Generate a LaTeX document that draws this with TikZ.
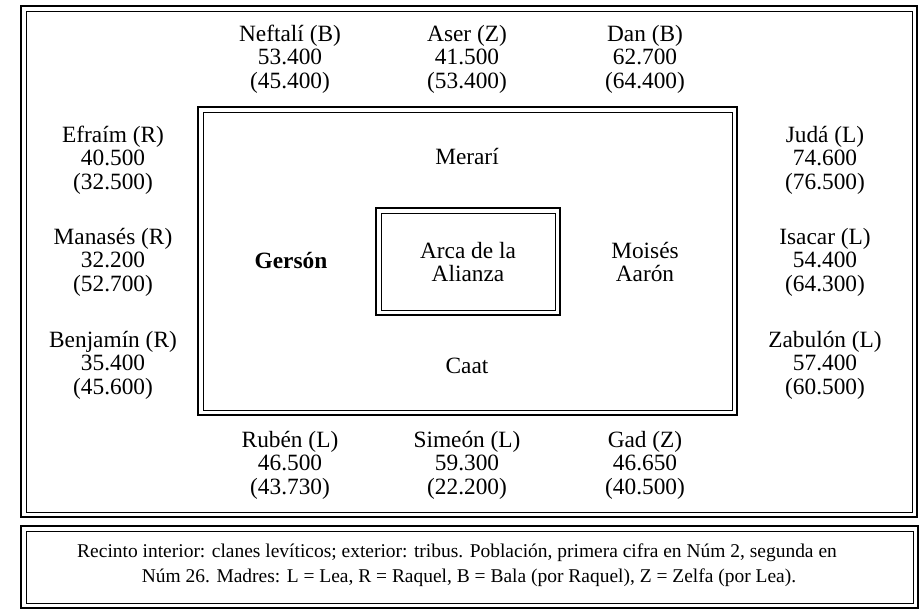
\documentclass[tikz,border=0pt]{standalone}
\usepackage{fontspec}
\setmainfont{Liberation Serif}
\usetikzlibrary{calc}
\definecolor{FrameClr}{rgb}{0,0,0}

% marco doble: trazo grueso fuera, fino dentro
\newcommand{\DobleMarco}[4]{%
  \draw[line width=1.7pt,color=FrameClr] (#1,#2) rectangle (#3,#4);
  \draw[line width=0.7pt,color=FrameClr] ($(#1,#2)+(5,5)$) rectangle ($(#3,#4)+(-5,-5)$);
}

\begin{document}
\begin{tikzpicture}[x=0.75pt,y=-0.75pt,
  tribu/.style={align=center,inner sep=0pt,font=\fontsize{17.5}{17.6}\selectfont},
  clan/.style={align=center,inner sep=0pt,font=\fontsize{17.5}{17.6}\selectfont},
  nota/.style={inner sep=0pt,font=\fontsize{14.6}{16}\selectfont}]
\useasboundingbox (0,0) rectangle (920,613);

\DobleMarco{21}{6}{917}{517}
\DobleMarco{198}{107}{737}{415}
\DobleMarco{376}{208}{560}{315}
\DobleMarco{21}{526}{918}{608}

% tribus, arriba
\node[tribu] (neftali) at (290,59) {Neftalí (B)\\53.400\\(45.400)};
\node[tribu] (aser) at (467,59) {Aser (Z)\\41.500\\(53.400)};
\node[tribu] (dan) at (645,59) {Dan (B)\\62.700\\(64.400)};

% izquierda
\node[tribu] (efraim) at (113,160) {Efraím (R)\\40.500\\(32.500)};
\node[tribu] (manases) at (113,262) {Manasés (R)\\32.200\\(52.700)};
\node[tribu] (benjamin) at (113,365) {Benjamín (R)\\35.400\\(45.600)};

% derecha
\node[tribu] (juda) at (825,160) {Judá (L)\\74.600\\(76.500)};
\node[tribu] (isacar) at (825,262) {Isacar (L)\\54.400\\(64.300)};
\node[tribu] (zabulon) at (825,365) {Zabulón (L)\\57.400\\(60.500)};

% abajo
\node[tribu] (ruben) at (290,465) {Rubén (L)\\46.500\\(43.730)};
\node[tribu] (simeon) at (467,465) {Simeón (L)\\59.300\\(22.200)};
\node[tribu] (gad) at (645,465) {Gad (Z)\\46.650\\(40.500)};

% clanes
\node[clan] (merari) at (467,157) {Merarí};
\node[clan] (caat) at (467,366) {Caat};
\node[clan,font=\fontsize{17.5}{17.6}\selectfont\bfseries] (gerson) at (291,261) {Gersón};
\node[clan] (moises) at (645,262) {Moisés\\Aarón};
\node[clan] (arca) at (468,262) {Arca de la\\Alianza};

\node[nota] (nota1) at (457,553) {Recinto interior: clanes levíticos; exterior: tribus. Población, primera cifra en Núm 2, segunda en};
\node[nota] (nota2) at (469,578) {Núm 26. Madres: L = Lea, R = Raquel, B = Bala (por Raquel), Z = Zelfa (por Lea).};

\end{tikzpicture}
\end{document}
